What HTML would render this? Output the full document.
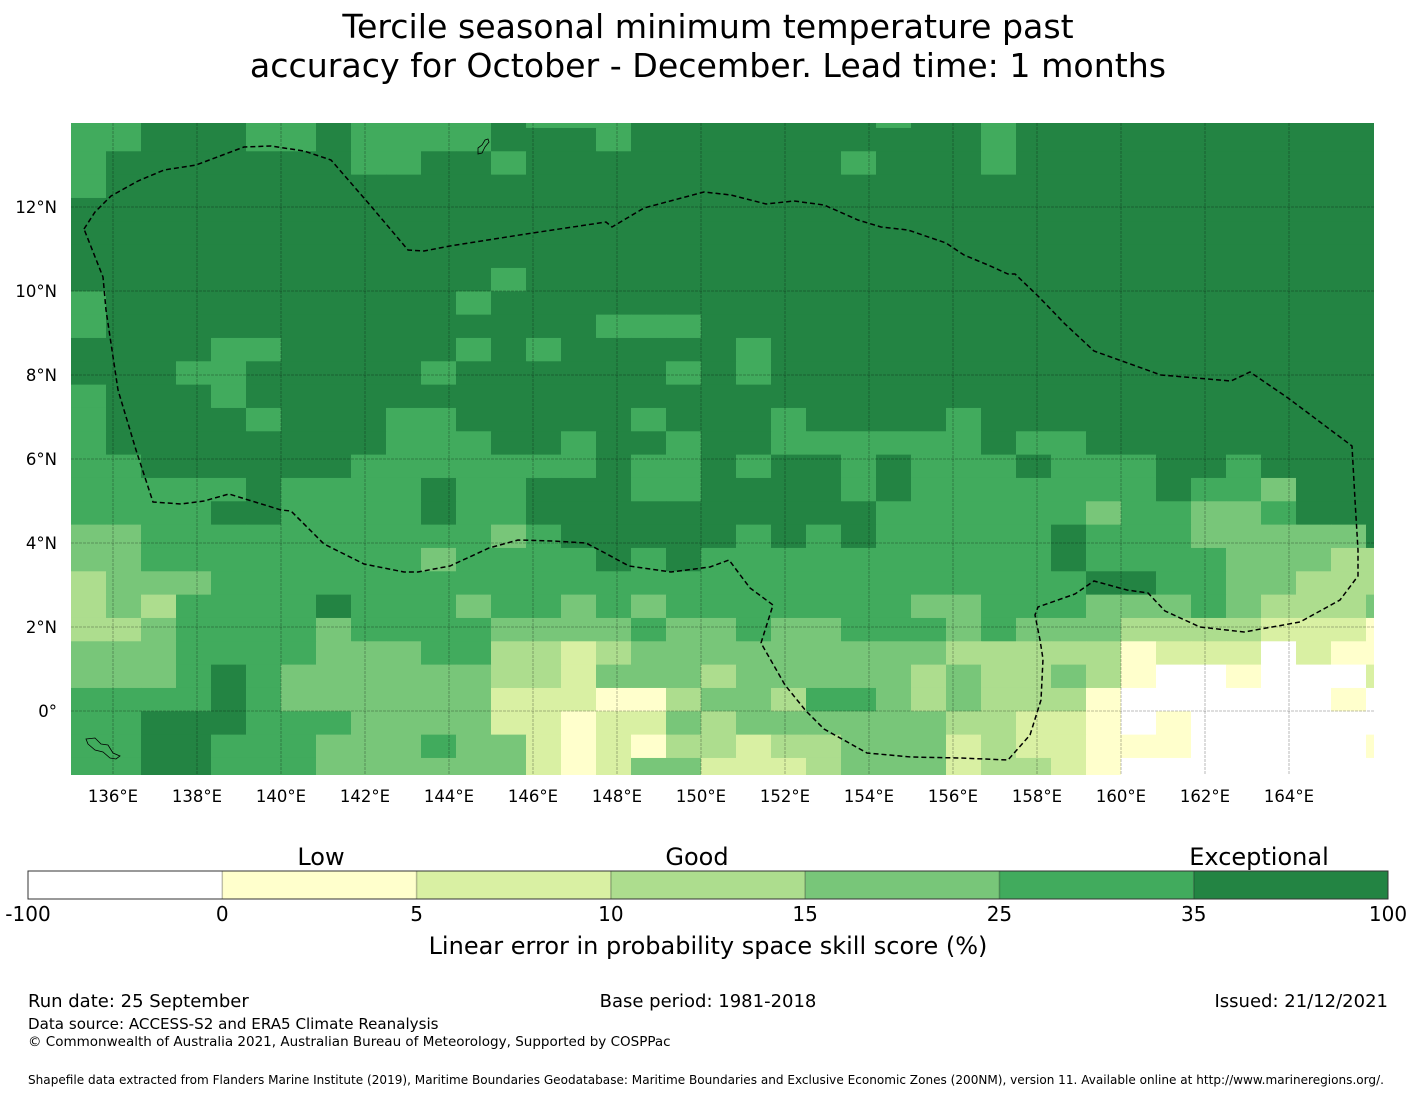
<!DOCTYPE html>
<html><head><meta charset="utf-8">
<style>
body{margin:0;background:#fff;}
svg{display:block;font-family:"DejaVu Sans","Liberation Sans",sans-serif;}
</style></head>
<body>
<svg id="chart" width="1416" height="1095" viewBox="0 0 1416 1095" xmlns="http://www.w3.org/2000/svg">
<text x="708" y="38" text-anchor="middle" font-size="33.2">Tercile seasonal minimum temperature past</text>
<text x="708" y="77" text-anchor="middle" font-size="33.2">accuracy for October - December. Lead time: 1 months</text>
<defs><clipPath id="mapclip"><rect x="71" y="123" width="1303" height="652"/></clipPath></defs>
<g id="map" clip-path="url(#mapclip)"></g>
<g id="grid"></g>
<g id="xticks"></g>
<g id="yticks"></g>
<g id="cbar"></g>
<text x="321" y="865" text-anchor="middle" font-size="24">Low</text>
<text x="697" y="865" text-anchor="middle" font-size="24">Good</text>
<text x="1259" y="865" text-anchor="middle" font-size="24">Exceptional</text>
<text x="708" y="954" text-anchor="middle" font-size="24">Linear error in probability space skill score (%)</text>
<text x="28" y="1007" font-size="18">Run date: 25 September</text>
<text x="708" y="1007" text-anchor="middle" font-size="18">Base period: 1981-2018</text>
<text x="1388" y="1007" text-anchor="end" font-size="18">Issued: 21/12/2021</text>
<text x="28" y="1029" font-size="15.1">Data source: ACCESS-S2 and ERA5 Climate Reanalysis</text>
<text x="28" y="1046" font-size="13.5">© Commonwealth of Australia 2021, Australian Bureau of Meteorology, Supported by COSPPac</text>
<text x="28" y="1084" font-size="12.07">Shapefile data extracted from Flanders Marine Institute (2019), Maritime Boundaries Geodatabase: Maritime Boundaries and Exclusive Economic Zones (200NM), version 11. Available online at http://www.marineregions.org/.</text>
</svg>
<script>
// category colours and colorbar bounds
const levelColors = ["#ffffff","#ffffcc","#d9f0a3","#addd8e","#78c679","#41ab5d","#238443"];
const levelBounds = ["-100","0","5","10","15","25","35","100"];
const lonTicks = [136,138,140,142,144,146,148,150,152,154,156,158,160,162,164];
const latTicks = [0,2,4,6,8,10,12];
// grid: first cell lon/lat and step (degrees)
const gridLon0 = 135.0, gridDLon = 5/6;
const gridLat0 = 14.4375, gridDLat = 5/9;
// category index per cell (rows north->south)
const cells = [
"55666556555565556666666566566666666666",
"55666556555566656666666666566666666666",
"56666666556656666666665666566666666666",
"56666666666666666666666666666666666666",
"66666666666666666666666666666666666666",
"66666666666666666666666666666666666666",
"66666666666666666666666666666666666666",
"66666666666656666666666666666666666666",
"56666666666566666666666666666666666666",
"56666666666666655566666666666666666666",
"66665566666565666665666666666666666666",
"66655666665666666565666666666666666666",
"56665666666666666666666666666666666666",
"56666566655666665666566665666666666666",
"56666666655566566566555555655666666666",
"55666666555555565565665655565556656666",
"55555655556556665566665655555556554666",
"55556655556556666666666555555455445666",
"44555555555545666665656555556555444446",
"44555555554555565655555555556555544433",
"34445555555555555555555555555665544333",
"34355556555455454555555544555444543334",
"33455554555544445445445554544433332221",
"44455554445533234444444443333312220211",
"44456544444433244434444434334310010002",
"55556544444422211344355434333100000010",
"55666555444422122434444443322101000000",
"55665554445442121332334442322111000001",
"55665554444442124422234442332100000000"
];
// EEZ boundary vertices [lon, lat]
const eezLon = [];
const eezLat = [];

const X = lon => 113 + (lon - 136) * 42;
const Y = lat => 711 - lat * 42;
const NS = "http://www.w3.org/2000/svg";
function mk(tag, attrs, parent){const e=document.createElementNS(NS,tag);for(const k in attrs)e.setAttribute(k,attrs[k]);parent.appendChild(e);return e;}

const map = document.getElementById('map');
cells.forEach((row, r) => {
  for (let c = 0; c < row.length; c++) {
    const lonA = gridLon0 + c * gridDLon, latA = gridLat0 - r * gridDLat;
    const x0 = X(lonA), x1 = X(lonA + gridDLon), y0 = Y(latA), y1 = Y(latA - gridDLat);
    const rc = mk('rect', {x:x0, y:y0, width:x1-x0+0.4, height:y1-y0+0.4, fill:levelColors[+row[c]]}, map);
    
    
  }
});

// EEZ boundary (pixel trace converted to lon/lat)
const eezPx = [[84,229],[95,212],[111,196],[138,181],[164,170],[196,165],[244,147],[271,146],[304,151],[331,160],[370,205],[408,250],[424,251],[450,246],[526,234],[606,222],[612,227],[644,208],[704,192],[731,195],[766,204],[794,201],[824,205],[858,220],[881,227],[908,230],[946,243],[964,255],[988,265],[1008,274],[1015,274],[1038,296],[1065,324],[1094,351],[1161,375],[1231,381],[1250,372],[1288,398],[1352,446],[1355,500],[1358,550],[1358,576],[1340,600],[1300,622],[1244,632],[1200,627],[1165,611],[1148,593],[1127,590],[1094,581],[1075,594],[1038,607],[1035,615],[1040,640],[1043,659],[1041,700],[1030,735],[1008,760],[960,758],[911,757],[867,753],[824,729],[806,711],[785,685],[761,643],[773,605],[750,588],[729,560],[710,567],[671,572],[629,566],[605,553],[586,543],[553,541],[518,540],[489,548],[450,566],[418,572],[404,572],[364,564],[324,544],[291,511],[281,510],[229,494],[204,501],[181,504],[153,502],[136,450],[118,390],[106,310],[103,277],[84,229]];
eezPx.forEach(p => { eezLon.push(136 + (p[0]-113)/42); eezLat.push((711-p[1])/42); });
const d = eezLon.map((lo,i)=>(i?'L':'M')+X(lo).toFixed(1)+','+Y(eezLat[i]).toFixed(1)).join(' ');
const eez = mk('path', {d:d, fill:'none', stroke:'#000', 'stroke-width':1.5, 'stroke-dasharray':'5,3'}, map);



// small islands
const isl = mk('path', {d:'M86,739 L95,738 L101,744 L108,745 L113,753 L120,756 L116,759 L110,758 L103,752 L95,750 L88,744 Z', fill:'none', stroke:'#000', 'stroke-width':0.8}, map);


const guam = mk('path', {d:'M478,148 L482,145 L485,140 L488,139 L489,142 L485,147 L482,153 L478,154 Z', fill:'none', stroke:'#000', 'stroke-width':0.8}, map);



const grid = document.getElementById('grid');
lonTicks.forEach(lo => {
  const l = mk('line', {x1:X(lo), x2:X(lo), y1:123, y2:775, stroke:'rgba(0,0,0,0.35)', 'stroke-width':0.8, 'stroke-dasharray':'3,1'}, grid);
  
  
});
latTicks.forEach(la => {
  const l = mk('line', {x1:71, x2:1374, y1:Y(la), y2:Y(la), stroke:'rgba(0,0,0,0.35)', 'stroke-width':0.8, 'stroke-dasharray':'3,1'}, grid);
  
  
});
const xt = document.getElementById('xticks');
lonTicks.forEach(lo => {
  const t = mk('text', {x:X(lo), y:802, 'text-anchor':'middle', 'font-size':16.5}, xt);
  t.textContent = lo + '°E';
  
  
});
const yt = document.getElementById('yticks');
latTicks.forEach(la => {
  const t = mk('text', {x:57, y:Y(la)+6, 'text-anchor':'end', 'font-size':16.5}, yt);
  t.textContent = la === 0 ? '0°' : la + '°N';
  
  
});

const cb = document.getElementById('cbar');
const cbX0 = 28, cbX1 = 1388, cbY = 871, cbH = 28, segW = (cbX1-cbX0)/levelColors.length;
levelColors.forEach((col,i) => {
  const r = mk('rect', {x:cbX0+i*segW, y:cbY, width:segW, height:cbH, fill:col}, cb);
  
  
  if (i > 0) mk('line', {x1:cbX0+i*segW, x2:cbX0+i*segW, y1:cbY, y2:cbY+cbH, stroke:'rgba(0,0,0,0.25)', 'stroke-width':1.5}, cb);
});
const frame = mk('rect', {x:cbX0, y:cbY, width:cbX1-cbX0, height:cbH, fill:'none', stroke:'#333', 'stroke-width':1}, cb);


levelBounds.forEach((lb,i) => {
  const t = mk('text', {x:cbX0+i*segW, y:921, 'text-anchor':'middle', 'font-size':20}, cb);
  t.textContent = lb;
  
  
});
</script>
</body></html>
